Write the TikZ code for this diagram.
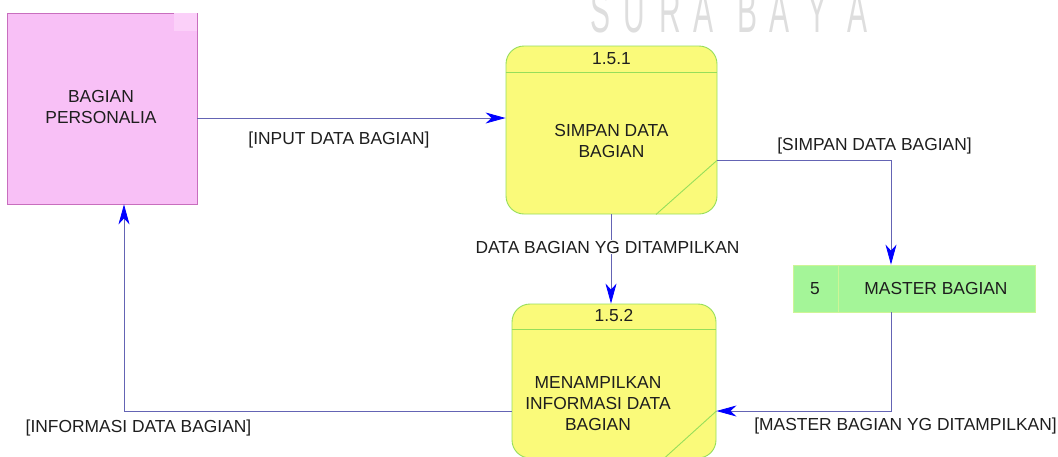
\documentclass[tikz,border=0pt]{standalone}
\usepackage{fontspec}
\setmainfont{Liberation Sans}
\usetikzlibrary{arrows.meta,calc}
\definecolor{procfill}{RGB}{250,250,122}
\definecolor{procline}{RGB}{150,222,90}
\definecolor{entfill}{RGB}{248,192,246}
\definecolor{entline}{RGB}{200,110,190}
\definecolor{entlight}{RGB}{251,208,249}
\definecolor{storefill}{RGB}{164,245,152}
\definecolor{storeline}{RGB}{205,245,150}
\definecolor{flowline}{RGB}{100,100,180}
\definecolor{arrowblue}{RGB}{0,0,255}
\definecolor{txt}{RGB}{30,30,30}
\definecolor{wmgray}{RGB}{222,222,222}
\begin{document}
\begin{tikzpicture}[x=1pt,y=-1pt,
  every node/.style={font=\fontsize{17.4}{21}\selectfont, text=txt},
  entity/.style={draw=entline, fill=entfill, inner sep=0pt, line width=0.8pt},
  process/.style={draw=procline, fill=procfill, rounded corners=18pt, inner sep=0pt, line width=0.9pt},
  store/.style={draw=storeline, fill=storefill, inner sep=0pt, line width=0.8pt},
  sepline/.style={draw=procline, line width=0.9pt},
  flow/.style={draw=flowline, line width=0.8pt, -{Stealth[length=20pt,width=11pt,inset=6pt,fill=arrowblue,color=arrowblue]}},
  flowlabel/.style={anchor=base, inner sep=1pt},
  wmletter/.style={font=\fontsize{60}{60}\selectfont, text=wmgray, anchor=base, xscale=0.5}
]
\useasboundingbox (0,0) rectangle (1058,456);

% watermark
\foreach \l/\x [count=\i] in {S/600,U/634,R/670,A/703,B/747,A/779,Y/817,A/857}
  \node[wmletter] (wm\i) at (\x,32) {\l};

% external entity
\node[entity, minimum width=190pt, minimum height=191pt] (ent) at (102,108.5) {};
\fill[entlight] (174,13.4) rectangle (196.6,31);
\node[align=center] (enttxt) at (101,107.5) {BAGIAN\\PERSONALIA};

% process 1.5.1
\node[process, minimum width=211pt, minimum height=168pt] (p1) at (611.5,130) {};
\coordinate (p1d) at (0,72);
\draw[sepline] (p1.west |- p1d) -- (p1.east |- p1d);
\node (p1num) at (611.5,59) {1.5.1};
\node[align=center] (p1txt) at (611.5,141) {SIMPAN DATA\\BAGIAN};
\coordinate (c1) at (891,160);
\coordinate (p1b) at (656,0);
\draw[sepline] (p1.east |- c1) -- (p1b |- p1.south);

% data store
\node[store, minimum width=242pt, minimum height=47pt] (ds) at (914,288.5) {};
\coordinate (dsd) at (838,0);
\draw[storeline, line width=0.8pt] (dsd |- ds.north) -- (dsd |- ds.south);
\node (dsnum) at (815,289) {5};
\node (dstxt) at (936,289) {MASTER BAGIAN};

% process 1.5.2
\node[process, minimum width=204pt, minimum height=154pt] (p2) at (614,381) {};
\coordinate (p2d) at (0,329);
\draw[sepline] (p2.west |- p2d) -- (p2.east |- p2d);
\node (p2num) at (614,316) {1.5.2};
\node[align=center] (p2txt) at (598,404) {MENAMPILKAN\\INFORMASI DATA\\BAGIAN};
\coordinate (c2) at (891,411);
\coordinate (c3) at (124,411);
\coordinate (p2b) at (664,0);
\draw[sepline] (p2.east |- c2) -- (p2b |- p2.south);

% flows
\coordinate (c0) at (0,118);
\draw[flow] (ent.east |- c0) -- (p1.west |- c0);
\node[flowlabel] (l1) at (339,144) {[INPUT DATA BAGIAN]};

\draw[flow] (p1.east |- c1) -- (c1) -- (c1 |- ds.north);
\node[flowlabel] (l2) at (874.5,150) {[SIMPAN DATA BAGIAN]};

\coordinate (cm) at (611,0);
\draw[flow] (cm |- p1.south) -- (cm |- p2.north);
\node[flowlabel, fill=white] (l3) at (607.5,253) {DATA BAGIAN YG DITAMPILKAN};

\draw[flow] (c2 |- ds.south) -- (c2) -- (p2.east |- c2);
\node[flowlabel] (l4) at (905.5,430) {[MASTER BAGIAN YG DITAMPILKAN]};

\draw[flow] (p2.west |- c3) -- (c3) -- (c3 |- ent.south);
\node[flowlabel] (l5) at (138.5,432) {[INFORMASI DATA BAGIAN]};
\end{tikzpicture}
\end{document}
